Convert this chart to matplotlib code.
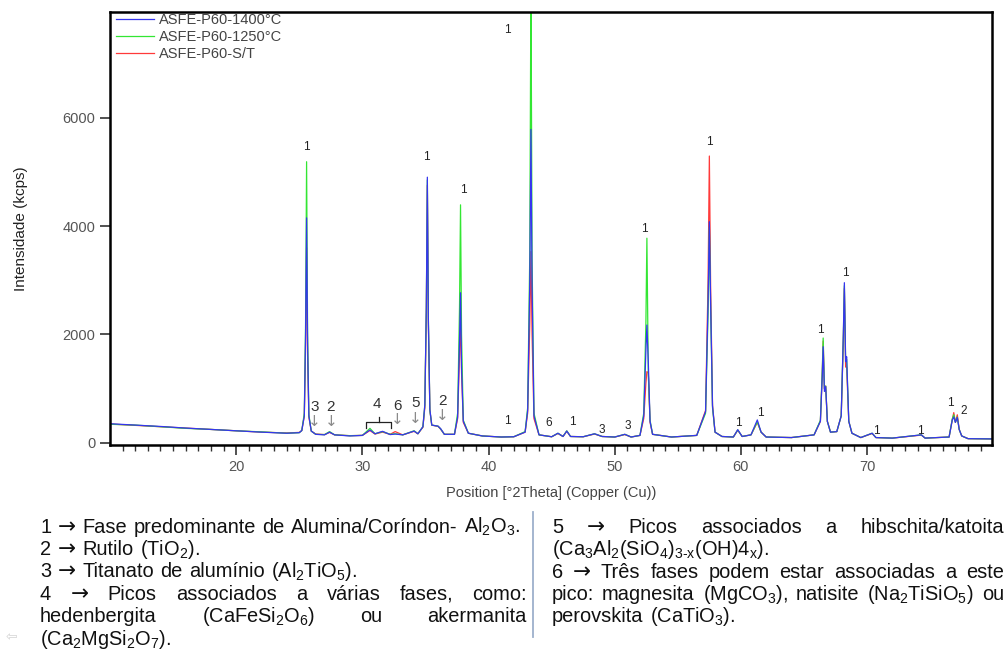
import matplotlib
matplotlib.use("Agg")
import matplotlib.pyplot as plt

plt.rcParams['font.family'] = ['Liberation Sans', 'DejaVu Sans']
plt.rcParams['mathtext.fontset'] = 'custom'
plt.rcParams['mathtext.rm'] = 'Liberation Sans'
plt.rcParams['mathtext.it'] = 'Liberation Sans:italic'
plt.rcParams['mathtext.bf'] = 'Liberation Sans:bold'

###############################################################################
# Data (2theta in degrees, intensity in kcps)
two_theta = [10.0, 12.0, 14.0, 16.0, 18.0, 20.0, 22.0, 24.0, 25.0, 25.2,
             25.4, 25.5, 25.58, 25.66, 25.76, 25.95, 26.3, 27.0, 27.4, 27.8,
             29.0, 30.0, 30.6, 31.0, 31.6, 32.2, 32.6, 33.2, 34.1, 34.4,
             34.8, 34.95, 35.07, 35.15, 35.23, 35.35, 35.5, 36.0, 36.2, 36.5,
             37.3, 37.55, 37.7, 37.78, 37.86, 38.0, 38.4, 39.5, 41.0, 42.0,
             42.9, 43.1, 43.27, 43.36, 43.45, 43.6, 44.0, 45.0, 45.5, 45.9,
             46.2, 46.5, 47.5, 48.4, 49.0, 50.0, 50.8, 51.3, 52.0, 52.3,
             52.47, 52.55, 52.66, 52.8, 53.0, 54.5, 56.5, 57.2, 57.4, 57.5,
             57.6, 57.75, 57.95, 58.5, 59.4, 59.75, 60.1, 60.8, 61.3, 61.6,
             62.0, 64.0, 65.8, 66.3, 66.45, 66.52, 66.62, 66.72, 66.85, 67.1,
             67.6, 67.95, 68.12, 68.2, 68.3, 68.38, 68.55, 68.8, 69.5, 70.4,
             70.7, 72.0, 74.3, 74.6, 76.5, 76.75, 76.87, 77.0, 77.15, 77.3,
             77.5, 78.0, 80.0]

int_st = [350, 325, 300, 275, 250, 225, 200, 185, 195, 230,
          500, 1800, 3600, 1600, 480, 220, 165, 155, 195, 150,
          135, 140, 230, 165, 200, 160, 210, 150, 215, 170,
          290, 650, 2400, 4750, 2200, 600, 330, 305, 255, 160,
          160, 450, 1600, 2330, 1300, 380, 180, 130, 110, 115,
          200, 550, 2200, 3530, 2000, 450, 150, 115, 175, 120,
          215, 120, 115, 165, 120, 110, 155, 110, 140, 450,
          1100, 1315, 1300, 380, 160, 110, 140, 600, 3000, 5290,
          2900, 700, 200, 120, 110, 235, 120, 150, 380, 200,
          110, 100, 150, 400, 1300, 1880, 1000, 1050, 400, 200,
          210, 500, 1900, 2850, 1400, 1400, 400, 180, 100, 175,
          100, 90, 145, 90, 110, 430, 560, 380, 520, 250,
          130, 80, 75]

int_1250 = [345, 330, 300, 270, 250, 225, 205, 180, 190, 230,
            550, 2200, 5185, 2000, 520, 220, 160, 155, 210, 150,
            135, 140, 270, 170, 210, 160, 170, 150, 225, 170,
            300, 700, 2500, 4850, 2300, 600, 330, 310, 260, 160,
            160, 550, 2500, 4390, 2000, 420, 180, 130, 110, 115,
            210, 650, 3500, 8600, 3400, 550, 150, 115, 180, 120,
            225, 120, 115, 170, 120, 110, 160, 110, 140, 550,
            2200, 3775, 1300, 420, 160, 110, 140, 550, 2400, 3980,
            2500, 650, 200, 120, 110, 240, 120, 150, 390, 200,
            110, 100, 150, 420, 1350, 1935, 1000, 1050, 400, 200,
            210, 500, 2000, 2900, 1500, 1550, 400, 180, 100, 180,
            100, 90, 150, 90, 110, 440, 520, 380, 480, 250,
            130, 80, 75]

int_1400 = [355, 330, 305, 275, 250, 225, 200, 180, 190, 230,
            500, 2000, 4150, 1800, 500, 220, 160, 150, 200, 150,
            130, 140, 240, 170, 215, 155, 165, 150, 220, 170,
            300, 700, 2500, 4900, 2300, 620, 330, 310, 265, 160,
            160, 480, 1900, 2770, 1400, 400, 180, 130, 110, 115,
            200, 600, 3000, 5780, 2900, 500, 150, 115, 180, 120,
            220, 120, 115, 170, 120, 110, 160, 110, 140, 500,
            1700, 2175, 1500, 400, 160, 110, 140, 580, 2600, 4080,
            2600, 680, 200, 120, 110, 245, 120, 150, 425, 200,
            110, 100, 150, 400, 1250, 1775, 950, 1040, 400, 200,
            210, 500, 2000, 2955, 1500, 1590, 400, 180, 100, 180,
            100, 90, 150, 90, 110, 420, 480, 380, 470, 250,
            130, 80, 75]

series_names = ['ASFE-P60-1400°C', 'ASFE-P60-1250°C', 'ASFE-P60-S/T']

# small phase labels above the peaks
peak_lbl = ['1', '1', '1', '1', '1', '6', '1', '3', '3', '1', '1', '1',
            '1', '1', '1', '1', '1', '1', '2']
peak_lbl_x = [25.6, 35.05, 37.99, 41.53, 41.5, 44.75, 46.65, 48.98, 51.0,
              52.36, 57.5, 59.8, 61.55, 66.28, 68.26, 70.77, 74.2, 76.63,
              77.69]
peak_lbl_y = [5460, 5277, 4664, 7613, 411, 374, 393, 240, 313,
              3939, 5554, 363, 559, 2083, 3140, 227, 227, 732, 590]

# bigger labels with arrows for the minor phases
minor_lbl = ['3', '2', '6', '5', '2']
minor_x = [26.22, 27.5, 32.78, 34.2, 36.35]
minor_y = [669, 669, 688, 743, 780]
arrow_y = [393, 393, 424, 455, 498]
brace_lbl_x = 31.15
brace_lbl_y = 719

###############################################################################
W, H = 1007, 651
fig = plt.figure(figsize=(W / 100, H / 100), dpi=100)


def fx(x):
    return x / W


def fy(y):
    return 1 - y / H


ax = fig.add_axes([fx(110), fy(445), (992 - 110) / W, (445 - 12) / H])

ax.plot(two_theta, int_st, color='#ff3a3a', lw=0.9, label=series_names[2])
ax.plot(two_theta, int_1250, color='#33e633', lw=0.9, label=series_names[1])
ax.plot(two_theta, int_1400, color='#3535ee', lw=0.9, label=series_names[0])

ax.set_xlim(10.0, 79.9)
ax.set_ylim(-37, 7945)
ax.set_xticks([20, 30, 40, 50, 60, 70])
ax.set_xticks(range(11, 80), minor=True)
ax.set_yticks([0, 2000, 4000, 6000])
ax.tick_params(axis='both', which='major', length=7, width=1.2,
               labelsize=10.5, labelcolor='#555555', color='#333333')
ax.tick_params(axis='x', which='minor', length=4, width=1.0, color='#333333')
for s in ax.spines.values():
    s.set_linewidth(1.8)
    s.set_color('black')

ax.set_xlabel('Position [°2Theta] (Copper (Cu))', fontsize=10.5,
              color='#444444', labelpad=9)
ax.set_ylabel('Intensidade (kcps)', fontsize=11, color='#222222', labelpad=25)

handles, labels = ax.get_legend_handles_labels()
ax.legend(handles[::-1], labels[::-1], loc='upper left',
          bbox_to_anchor=(-0.001, 1.015), frameon=False, fontsize=10.5,
          handlelength=2.6, handletextpad=0.35, labelspacing=0.22,
          borderaxespad=0.1, labelcolor='#444444')

for t, x, y in zip(peak_lbl, peak_lbl_x, peak_lbl_y):
    ax.text(x, y, t, fontsize=8.5, color='#222222', ha='center', va='center')

for t, x, y, ay in zip(minor_lbl, minor_x, minor_y, arrow_y):
    ax.text(x, y, t, fontsize=11, color='#333333', ha='center', va='center')
    ax.text(x, ay, '↓', fontsize=11, color='#8a8a8a', ha='center',
            va='center', family=['DejaVu Sans'])

# brace over the group "4"
ax.text(brace_lbl_x, brace_lbl_y, '4', fontsize=11, color='#333333',
        ha='center', va='center')
ax.plot([30.32, 30.32, 32.3, 32.3], [282, 393, 393, 282], color='#222222',
        lw=0.9)
ax.plot([31.3, 31.3], [393, 485], color='#222222', lw=0.9)

###############################################################################
# Caption text under the chart, placed word by word
renderer = fig.canvas.get_renderer()
cap_kw = dict(fontsize=14.4, color='#111111', va='baseline', ha='left')


def word_kw(w):
    if w == '→':
        return dict(cap_kw, family=['DejaVu Sans'], fontsize=15.5)
    return cap_kw


def put_line(words, x0, x1, yb, justify):
    widths = []
    for w in words:
        tt = fig.text(0, 0, w, **word_kw(w))
        widths.append(tt.get_window_extent(renderer).width)
        tt.remove()
    if justify:
        gap = (x1 - x0 - sum(widths)) / (len(words) - 1)
    else:
        gap = 6.5
    x = x0
    for w, wd in zip(words, widths):
        fig.text(fx(x), fy(yb), w, **word_kw(w))
        x += wd + gap


left_lines = [
    ('1 → Fase predominante de Alumina/Coríndon- Al$_2$O$_3$.', False),
    ('2 → Rutilo (TiO$_2$).', False),
    ('3 → Titanato de alumínio (Al$_2$TiO$_5$).', False),
    ('4 → Picos associados a várias fases, como:', True),
    ('hedenbergita (CaFeSi$_2$O$_6$) ou akermanita', True),
    ('(Ca$_2$MgSi$_2$O$_7$).', False),
]
right_lines = [
    ('5 → Picos associados a hibschita/katoita', True),
    ('(Ca$_3$Al$_2$(SiO$_4$)$_{\\mathrm{3\\text{-}x}}$(OH)4$_\\mathrm{x}$).',
     False),
    ('6 → Três fases podem estar associadas a este', True),
    ('pico: magnesita (MgCO$_3$), natisite (Na$_2$TiSiO$_5$) ou', True),
    ('perovskita (CaTiO$_3$).', False),
]
left_base = [533, 555, 577, 600, 622, 645]
right_base = [533, 555, 578, 600, 622]

for (txt, just), yb in zip(left_lines, left_base):
    put_line(txt.split(' '), 40, 527, yb, just)
for (txt, just), yb in zip(right_lines, right_base):
    put_line(txt.split(' '), 552, 1004, yb, just)

# column separator
fig.add_artist(plt.Line2D([fx(533), fx(533)], [fy(512), fy(637)],
                          color='#9db0cc', lw=1.3))
fig.text(fx(6), fy(637), '⇦', fontsize=10, color='#d4d4d4', va='center',
         family=['DejaVu Sans'])

fig.savefig('out.png', dpi=100)
